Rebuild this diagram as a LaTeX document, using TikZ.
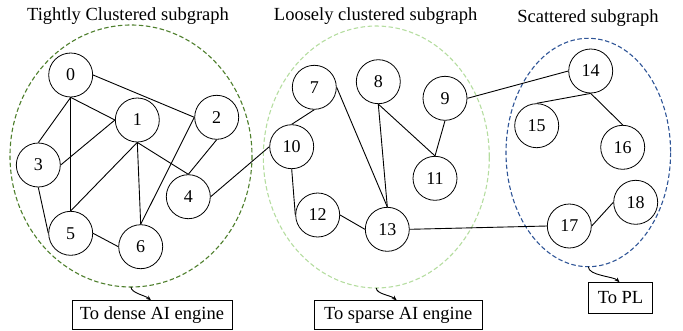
\documentclass[tikz,border=0pt]{standalone}
\usepackage{fontspec}
\setmainfont{Liberation Serif}
\usetikzlibrary{arrows.meta}
\definecolor{dkgreen}{HTML}{4E7F2C}
\definecolor{ltgreen}{HTML}{B5DDA0}
\definecolor{dkblue}{HTML}{2F5597}
\tikzset{
  vtx/.style={circle,draw=black,line width=0.8pt,minimum size=44pt,inner sep=0pt,font=\fontsize{18}{20}\selectfont},
  edge/.style={draw=black,line width=0.9pt},
  cluster/.style={dashed,line width=1.1pt,dash pattern=on 4.5pt off 2.5pt},
  title/.style={font=\fontsize{18.5}{20}\selectfont,inner sep=0pt},
  dest/.style={draw=black,line width=0.8pt,inner sep=0pt,font=\fontsize{18.5}{20}\selectfont},
  flow/.style={draw=black,line width=0.9pt,-{Stealth[length=5pt,width=4pt]}}
}
\begin{document}
\begin{tikzpicture}[x=1pt,y=-1pt]
\useasboundingbox (0,0) rectangle (683,330);
% clusters
\draw[cluster,draw=dkgreen] (131,156) ellipse [x radius=121,y radius=131];
\draw[cluster,draw=ltgreen] (376.3,157) ellipse [x radius=113,y radius=131];
\draw[cluster,draw=dkblue] (588.3,152.5) ellipse [x radius=82.3,y radius=114.2];
\coordinate (g1) at (131,287);
\coordinate (g2) at (376.3,288);
\coordinate (g3) at (588.3,266.7);
% titles
\node[title] (t1) at (128,16) {Tightly Clustered subgraph};
\node[title] (t2) at (375.7,16) {Loosely clustered subgraph};
\node[title] (t3) at (588,18) {Scattered subgraph};
% vertices
\node[vtx] (n0) at (70.7,75) {0};
\node[vtx] (n1) at (137.3,120) {1};
\node[vtx] (n2) at (216.7,117.3) {2};
\node[vtx] (n3) at (38.3,165) {3};
\node[vtx] (n4) at (188.3,196.7) {4};
\node[vtx] (n5) at (70.7,233.3) {5};
\node[vtx] (n6) at (140.7,246.7) {6};
\node[vtx] (n7) at (314.3,87.3) {7};
\node[vtx] (n8) at (378.3,81.7) {8};
\node[vtx] (n9) at (445,98.3) {9};
\node[vtx] (n10) at (291.7,146.7) {10};
\node[vtx] (n11) at (435,178.3) {11};
\node[vtx] (n12) at (317.7,215) {12};
\node[vtx] (n13) at (387.3,229.3) {13};
\node[vtx] (n14) at (590.7,71) {14};
\node[vtx] (n15) at (536.7,125.7) {15};
\node[vtx] (n16) at (622.7,147.3) {16};
\node[vtx] (n17) at (569.3,226) {17};
\node[vtx] (n18) at (635.7,202.3) {18};
% edges
\draw[edge] (n0.south) -- (n1.west);
\draw[edge] (n0.east) -- (n2.west);
\draw[edge] (n0.south) -- (n3.north);
\draw[edge] (n0.south) -- (n5.north);
\draw[edge] (n1.west) -- (n3.east);
\draw[edge] (n1.south) -- (n4.north);
\draw[edge] (n1.south) -- (n5.north);
\draw[edge] (n1.south) -- (n6.north);
\draw[edge] (n2.south) -- (n4.north);
\draw[edge] (n2.west) -- (n6.north);
\draw[edge] (n3.south) -- (n5.west);
\draw[edge] (n5.east) -- (n6.west);
\draw[edge] (n4.east) -- (n10.west);
\draw[edge] (n7.south) -- (n10.north);
\draw[edge] (n7.east) -- (n13.north);
\draw[edge] (n8.south) -- (n13.north);
\draw[edge] (n8.south) -- (n11.north);
\draw[edge] (n9.south) -- (n11.north);
\draw[edge] (n9.east) -- (n14.west);
\draw[edge] (n10.south) -- (n12.west);
\draw[edge] (n12.east) -- (n13.west);
\draw[edge] (n13.east) -- (n17.west);
\draw[edge] (n14.south) -- (n15.north);
\draw[edge] (n14.south) -- (n16.north);
\draw[edge] (n17.east) -- (n18.west);
% destinations
\node[dest,minimum width=160pt,minimum height=28.6pt] (d1) at (152,315) {To dense AI engine};
\node[dest,minimum width=167.7pt,minimum height=28.6pt] (d2) at (398.2,315) {To sparse AI engine};
\node[dest,minimum width=64.4pt,minimum height=30.6pt] (d3) at (620.5,298) {To PL};
\draw[flow] (g1) .. controls +(0,6) and +(-6,-5) .. ([xshift=-1pt]d1.north);
\draw[flow] (g2) .. controls +(0,6) and +(-6,-5) .. ([xshift=-1.5pt]d2.north);
\draw[flow] (g3) .. controls +(0,9) and +(-6,-6) .. ([xshift=-1pt]d3.north);
\end{tikzpicture}
\end{document}
